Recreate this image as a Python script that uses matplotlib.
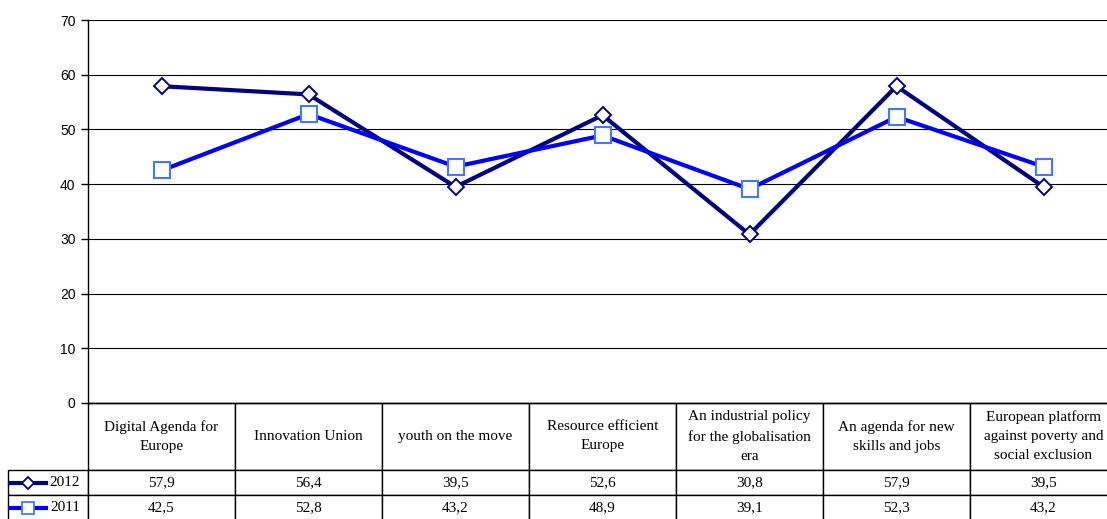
import matplotlib.pyplot as plt
from matplotlib.lines import Line2D

categories = [
    "Digital Agenda for\nEurope",
    "Innovation Union",
    "youth on the move",
    "Resource efficient\nEurope",
    "An industrial policy\nfor the globalisation\nera",
    "An agenda for new\nskills and jobs",
    "European platform\nagainst poverty and\nsocial exclusion",
]
series_names = ["2012", "2011"]
values_2012 = [57.9, 56.4, 39.5, 52.6, 30.8, 57.9, 39.5]
values_2011 = [42.5, 52.8, 43.2, 48.9, 39.1, 52.3, 43.2]
y_ticks = [0, 10, 20, 30, 40, 50, 60, 70]

W, H = 1107, 519
fig = plt.figure(figsize=(W / 100, H / 100), dpi=100)

# plot area in pixels: x 88..1117 (runs past the right edge), y 20..403
px_l, px_r, px_t, px_b = 88, 1117, 20, 403
ax = fig.add_axes([px_l / W, 1 - px_b / H, (px_r - px_l) / W, (px_b - px_t) / H])

x = [i + 0.5 for i in range(len(categories))]
ax.plot(x, values_2012, color="#000080", lw=3, marker="D", ms=8,
        mfc="white", mec="#000080", mew=1.4, zorder=3)
ax.plot(x, values_2011, color="#0000FF", lw=3, marker="s", ms=11,
        mfc="white", mec="#4477FF", mew=1.5, zorder=3)

ax.set_xlim(0, len(categories))
ax.set_ylim(0, 70)
ax.set_yticks(y_ticks)
ax.set_xticks([])
ax.grid(axis="y", color="black", lw=0.8)
ax.set_axisbelow(True)
for s in ["top", "right"]:
    ax.spines[s].set_visible(False)
ax.spines["left"].set_linewidth(1)
ax.spines["bottom"].set_linewidth(1)
ax.tick_params(axis="y", direction="out", length=5, width=1, pad=4,
               labelsize=10)
for lab in ax.get_yticklabels():
    lab.set_family("Liberation Sans")

# data table under the plot (bbox covers the data cells + header only)
fmt = lambda v: f"{v:.1f}".replace(".", ",")
cell_text = [[fmt(v) for v in values_2012], [fmt(v) for v in values_2011]]
tb_b = 520
aw, ah = px_r - px_l, px_b - px_t
bbox = [0, -(tb_b - px_b) / ah, 1, (tb_b - px_b) / ah]
tbl = ax.table(cellText=cell_text, rowLabels=series_names,
               colLabels=categories, cellLoc="center", rowLoc="right",
               bbox=bbox)
tbl._autoColumns = []  # keep the fixed row-label width
tbl.auto_set_font_size(False)
for (r, c), cell in tbl.get_celld().items():
    cell.set_linewidth(1)
    cell.set_edgecolor("black")
    cell.set_width((80 if c == -1 else 147) / aw)
    cell.set_height((67 if r == 0 else 25) / ah)
    t = cell.get_text()
    t.set_fontsize(11)
    t.set_family("Liberation Serif")
    t.set_linespacing(1.6)
    if c == -1:
        cell.PAD = 0.1

# legend keys inside the row label cells
for i, (col, mk, ms, mec) in enumerate([("#000080", "D", 6, "#000080"),
                                        ("#0000FF", "s", 9, "#4477FF")]):
    yc = 1 - (483 + 24.5 * i) / H
    fig.add_artist(Line2D([10 / W, 46 / W], [yc, yc], color=col, lw=3,
                          transform=fig.transFigure))
    fig.add_artist(Line2D([28 / W], [yc], marker=mk, ms=ms, mfc="white",
                          mec=mec, mew=1.3, color=col,
                          transform=fig.transFigure))

fig.savefig("out.png", dpi=100)
